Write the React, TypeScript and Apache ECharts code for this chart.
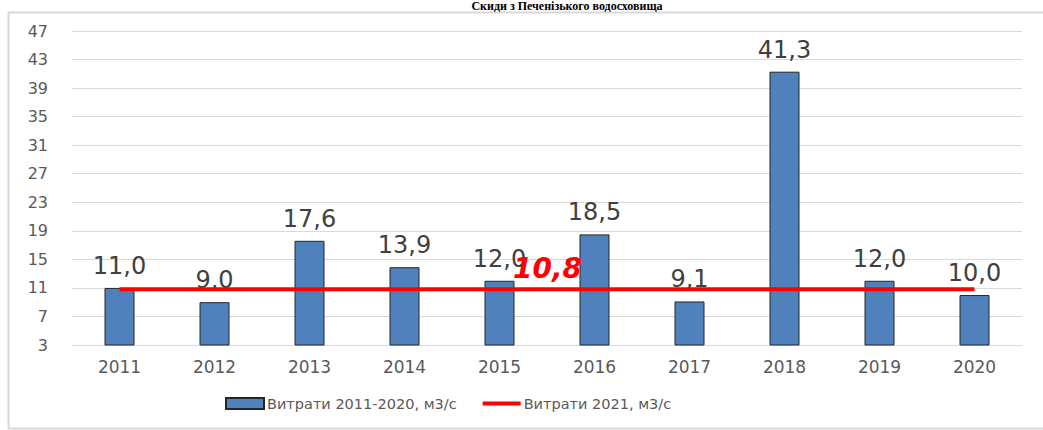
import React, { useEffect, useRef } from "react";
import * as echarts from "echarts";

const titleText = "Скиди з Печенізького водосховища";
const years = ["2011", "2012", "2013", "2014", "2015", "2016", "2017", "2018", "2019", "2020"];
const flows2011_2020 = [11.0, 9.0, 17.6, 13.9, 12.0, 18.5, 9.1, 41.3, 12.0, 10.0];
const flow2021 = [10.8, 10.8, 10.8, 10.8, 10.8, 10.8, 10.8, 10.8, 10.8, 10.8];
const flow2021LabelIndex = 5;
const seriesNames = ["Витрати 2011-2020, м3/с", "Витрати 2021, м3/с"];
const yMin = 3;
const yMax = 47;
const yStep = 4;

const fmt = (v: number) => v.toFixed(1).replace(".", ",");
const font = "'DejaVu Sans', Verdana, sans-serif";

export default function App() {
  const ref = useRef<HTMLDivElement>(null);
  useEffect(() => {
    document.body.style.margin = "0";
    const chart = echarts.init(ref.current!, undefined, { renderer: "svg" });
    chart.setOption({
      animation: false,
      backgroundColor: "#ffffff",
      graphic: [
        {
          type: "rect",
          shape: { x: 8.5, y: 12.5, width: 1100, height: 416 },
          style: { fill: "none", stroke: "#d9d9d9", lineWidth: 2 },
          z: -10,
        },
        {
          type: "text",
          x: 567,
          y: 0,
          style: {
            text: titleText,
            font: "bold 12px 'Liberation Serif', 'DejaVu Serif', serif",
            fill: "#000000",
            align: "center",
            verticalAlign: "top",
          },
        },
      ],
      grid: { left: 72, right: 21, top: 31, bottom: 85 },
      legend: {
        bottom: 14,
        left: 220,
        itemGap: 26,
        itemWidth: 38,
        itemHeight: 11,
        textStyle: { color: "#595959", fontSize: 14.5, fontFamily: font, padding: [0, 0, 0, -2] },
        data: [
          { name: seriesNames[0], icon: "rect" },
          { name: seriesNames[1], icon: "path://M0,0 L40,0 L40,4 L0,4 Z", itemStyle: { color: "#ff0000" } },
        ],
      },
      xAxis: {
        type: "category",
        data: years,
        axisLine: { lineStyle: { color: "#d9d9d9", width: 1 } },
        axisTick: { show: false },
        axisLabel: { color: "#595959", fontSize: 17, fontFamily: font, margin: 13 },
      },
      yAxis: {
        type: "value",
        min: yMin,
        max: yMax,
        interval: yStep,
        axisLine: { show: false },
        axisTick: { show: false },
        splitLine: { lineStyle: { color: "#d9d9d9", width: 1 } },
        axisLabel: { color: "#595959", fontSize: 16, fontFamily: font, margin: 24 },
      },
      series: [
        {
          name: seriesNames[0],
          type: "bar",
          data: flows2011_2020,
          barWidth: 30,
          itemStyle: { color: "#4f81bd", borderColor: "#262626", borderWidth: 1 },
          label: {
            show: true,
            position: "top",
            distance: 10,
            color: "#404040",
            fontSize: 24,
            fontFamily: font,
            formatter: (p: any) => fmt(p.value),
          },
          z: 2,
        },
        {
          name: seriesNames[1],
          type: "line",
          data: flow2021.map((v, i) =>
            i === flow2021LabelIndex
              ? {
                  value: v,
                  label: {
                    show: true,
                    position: "top",
                    offset: [-47, 0],
                    distance: 7,
                    color: "#ff0000",
                    fontSize: 28,
                    fontWeight: "bold",
                    fontStyle: "italic",
                    fontFamily: font,
                    formatter: (p: any) => fmt(p.value),
                  },
                }
              : v
          ),
          symbol: "circle",
          symbolSize: 0,
          showSymbol: true,
          lineStyle: { color: "#ff0000", width: 4 },
          itemStyle: { color: "#ff0000" },
          z: 3,
        },
      ],
    });
    return () => chart.dispose();
  }, []);
  return <div ref={ref} style={{ width: 1043, height: 430 }} />;
}
